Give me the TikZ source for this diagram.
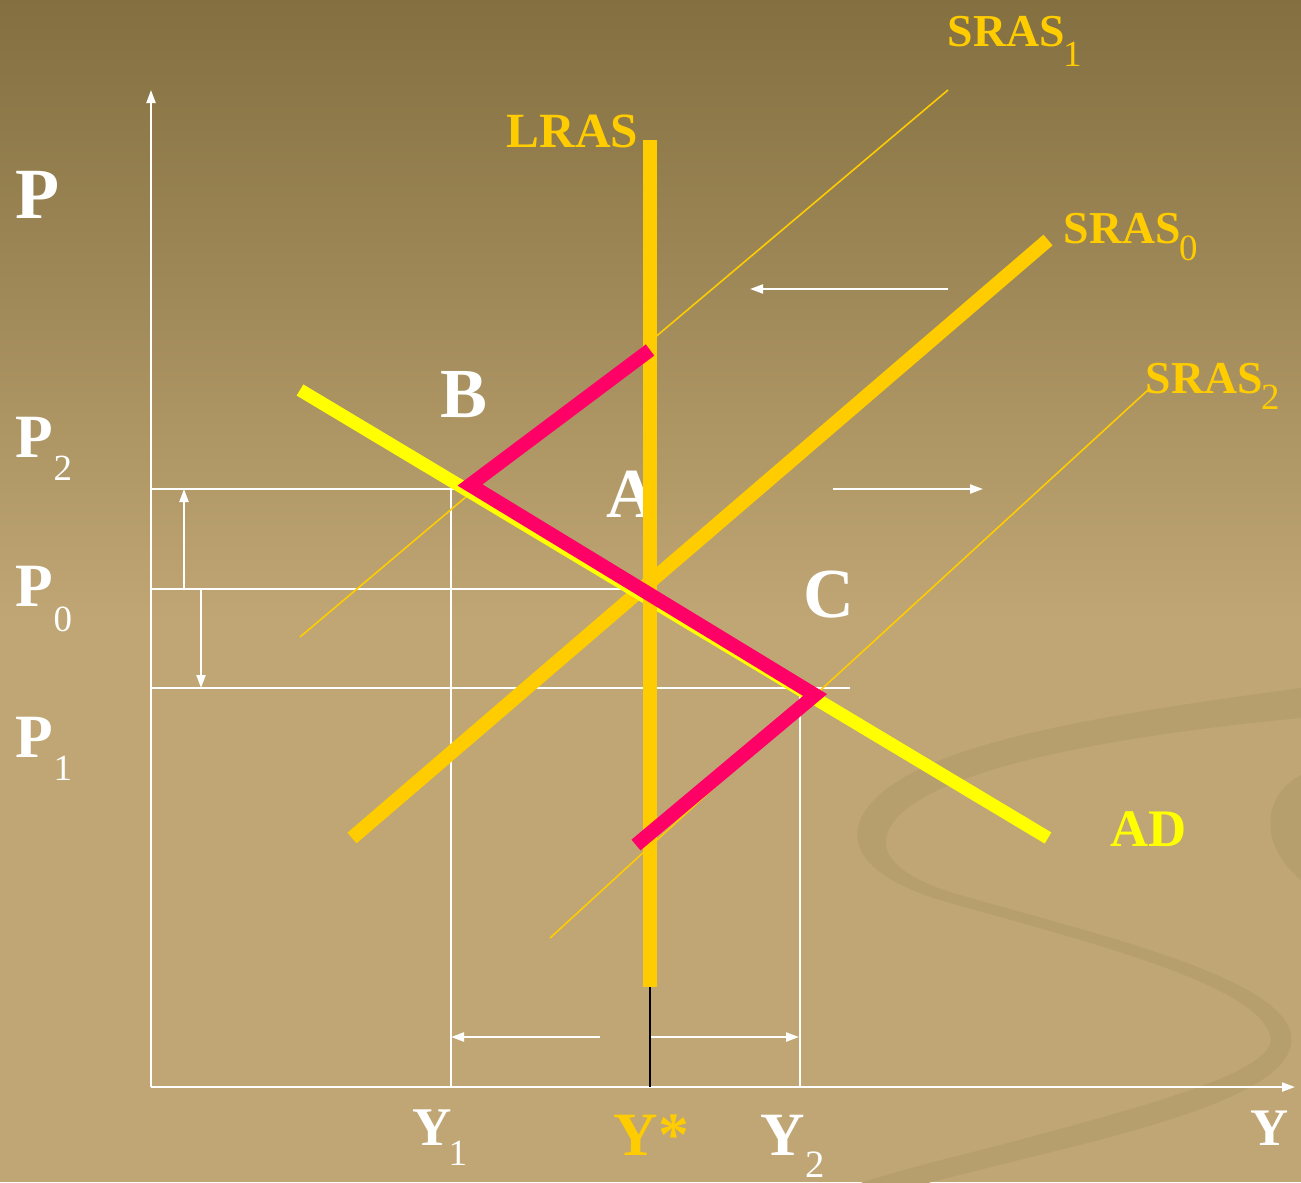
\documentclass[tikz,border=0pt]{standalone}
\usepackage{fontspec}
\setmainfont{Liberation Serif}
\usetikzlibrary{arrows.meta}
\definecolor{bgtop}{RGB}{131,111,64}
\definecolor{bgbot}{RGB}{192,166,116}
\definecolor{swirl}{RGB}{183,159,109}
\definecolor{gold}{RGB}{255,204,0}
\definecolor{adyel}{RGB}{255,255,0}
\definecolor{redpath}{RGB}{255,0,102}
\tikzset{
  thick line/.style={line width=0.14cm, line cap=butt},
  thin gold/.style={gold, line width=0.45pt},
  guide/.style={white, line width=0.55pt},
  warrow/.style={white, line width=0.6pt, -{Triangle[length=1.3mm, width=0.9mm]}},
  lbl/.style={inner sep=0pt, anchor=base west},
  big/.style={lbl, font=\fontsize{20pt}{24pt}\selectfont\bfseries, text=white},
  mid/.style={lbl, font=\fontsize{17.5pt}{21pt}\selectfont\bfseries, text=white},
  sml/.style={lbl, font=\fontsize{13pt}{16pt}\selectfont\bfseries},
  sub/.style={lbl, font=\fontsize{10.5pt}{12pt}\selectfont},
}
\begin{document}
\begin{tikzpicture}[x=0.01cm, y=-0.01cm]
\useasboundingbox (0,0) rectangle (1301,1182);
% background
\fill[bgbot] (0,0) rectangle (1301,1182);
\shade[top color=bgtop, bottom color=bgbot] (0,0) rectangle (1301,620);
% swirl decoration
\fill[swirl]
  (1301,688) .. controls (1100,715) and (950,740) .. (885,790)
  .. controls (835,830) and (850,875) .. (950,903)
  .. controls (1100,945) and (1255,985) .. (1270,1035)
  .. controls (1282,1070) and (1150,1105) .. (1000,1145)
  .. controls (950,1158) and (890,1172) .. (840,1190)
  -- (900,1190)
  .. controls (960,1175) and (1010,1162) .. (1060,1150)
  .. controls (1200,1115) and (1305,1080) .. (1290,1030)
  .. controls (1270,975) and (1100,935) .. (960,895)
  .. controls (880,872) and (870,840) .. (905,810)
  .. controls (960,765) and (1120,735) .. (1301,718) -- cycle;
\fill[swirl]
  (1301,775) .. controls (1262,795) and (1258,845) .. (1301,880) -- cycle;
% coordinates
\coordinate (O) at (151,1087);
\coordinate (Ytop) at (151,90);
\coordinate (Xend) at (1295,1087);
\coordinate (B) at (470,485);
\coordinate (C) at (815,695);
% axes
\draw[warrow] (O) -- (Ytop);
\draw[warrow] (O) -- (Xend);
% guide lines
\coordinate (p2l) at (151,489); \coordinate (p2r) at (468,489);
\coordinate (p0l) at (151,589); \coordinate (p0r) at (643,589);
\coordinate (p1l) at (151,688); \coordinate (p1r) at (850,688);
\draw[guide] (p2l) -- (p2r);
\draw[guide] (p0l) -- (p0r);
\draw[guide] (p1l) -- (p1r);
\coordinate (y1t) at (451,489); \coordinate (y1b) at (451,1087);
\coordinate (y2t) at (800,688); \coordinate (y2b) at (800,1087);
\draw[guide] (y1t) -- (y1b);
\draw[guide] (y2t) -- (y2b);
% vertical change arrows
\coordinate (ua0) at (184,589); \coordinate (ua1) at (184,489);
\coordinate (da0) at (201,589); \coordinate (da1) at (201,688);
\draw[warrow] (ua0) -- (ua1);
\draw[warrow] (da0) -- (da1);
% horizontal change arrows
\coordinate (la0) at (600,1037); \coordinate (la1) at (451,1037);
\coordinate (ra0) at (650,1037); \coordinate (ra1) at (799,1037);
\draw[warrow] (la0) -- (la1);
\draw[warrow] (ra0) -- (ra1);
\coordinate (ta0) at (948,289); \coordinate (ta1) at (750,289);
\coordinate (ma0) at (833,489); \coordinate (ma1) at (983,489);
\draw[warrow] (ta0) -- (ta1);
\draw[warrow] (ma0) -- (ma1);
% black tick below LRAS
\coordinate (lb) at (650,987);
\draw[black, line width=0.6pt] (lb) -- (O -| lb);
% thin SRAS curves
\coordinate (s1a) at (300,637); \coordinate (s1b) at (948,90);
\coordinate (s2a) at (550,938); \coordinate (s2b) at (1148,390);
\draw[thin gold] (s1a) -- (s1b);
\draw[thin gold] (s2a) -- (s2b);
% SRAS0
\coordinate (s0a) at (352,838); \coordinate (s0b) at (1048,240);
\draw[thick line, gold] (s0a) -- (s0b);
% AD
\coordinate (ada) at (300,390); \coordinate (adb) at (1048,838);
\draw[thick line, adyel, line width=0.13cm] (ada) -- (adb);
% label A sits behind LRAS
\node[big] (lA) at (606,517) {A};
% LRAS
\coordinate (lt) at (650,140);
\draw[thick line, gold] (lt) -- (lb);
% red adjustment path
\coordinate (r0) at (650,350);
\coordinate (r3) at (636,845);
\draw[thick line, redpath, line join=miter] (r0) -- (B) -- (C) -- (r3);
% labels
\node[lbl, font=\fontsize{20.5pt}{24pt}\selectfont\bfseries, text=white] (lP) at (15,218) {P};
\node[mid] (lP2) at (15,457) {P};
\node[sub, text=white] (lP2s) at (53,480) {2};
\node[mid] (lP0) at (15,606) {P};
\node[sub, text=white] (lP0s) at (53,631) {0};
\node[mid] (lP1) at (15,757) {P};
\node[sub, text=white] (lP1s) at (53,780) {1};
\node[big] (lB) at (440,417) {B};
\node[big] (lC) at (803,617) {C};
\node[lbl, font=\fontsize{14pt}{16pt}\selectfont\bfseries, text=gold] (lLRAS) at (506,147) {LRAS};
\node[sml, text=gold] (lS1) at (947,47) {SRAS};
\node[sub, text=gold] (lS1s) at ([xshift=-0.8pt, yshift=-5.6pt]lS1.base east) {1};
\node[sml, text=gold] (lS0) at (1063,243) {SRAS};
\node[sub, text=gold] (lS0s) at ([xshift=-0.8pt, yshift=-4.9pt]lS0.base east) {0};
\node[sml, text=gold] (lS2) at (1145,393) {SRAS};
\node[sub, text=gold] (lS2s) at ([xshift=-0.8pt, yshift=-4.6pt]lS2.base east) {2};
\node[lbl, font=\fontsize{15pt}{18pt}\selectfont\bfseries, text=adyel] (lAD) at (1110,846) {AD};
\node[lbl, font=\fontsize{15pt}{18pt}\selectfont\bfseries, text=white] (lY) at (1250,1145) {Y};
\node[lbl, font=\fontsize{15.5pt}{18pt}\selectfont\bfseries, text=white] (lY1) at (412,1145) {Y};
\node[sub, text=white] (lY1s) at (448,1165) {1};
\node[mid, text=gold] (lYs) at (613,1155) {Y*};
\node[mid] (lY2) at (760,1155) {Y};
\node[sub, font=\fontsize{11pt}{13pt}\selectfont, text=white] (lY2s) at (805,1177) {2};
\end{tikzpicture}
\end{document}
